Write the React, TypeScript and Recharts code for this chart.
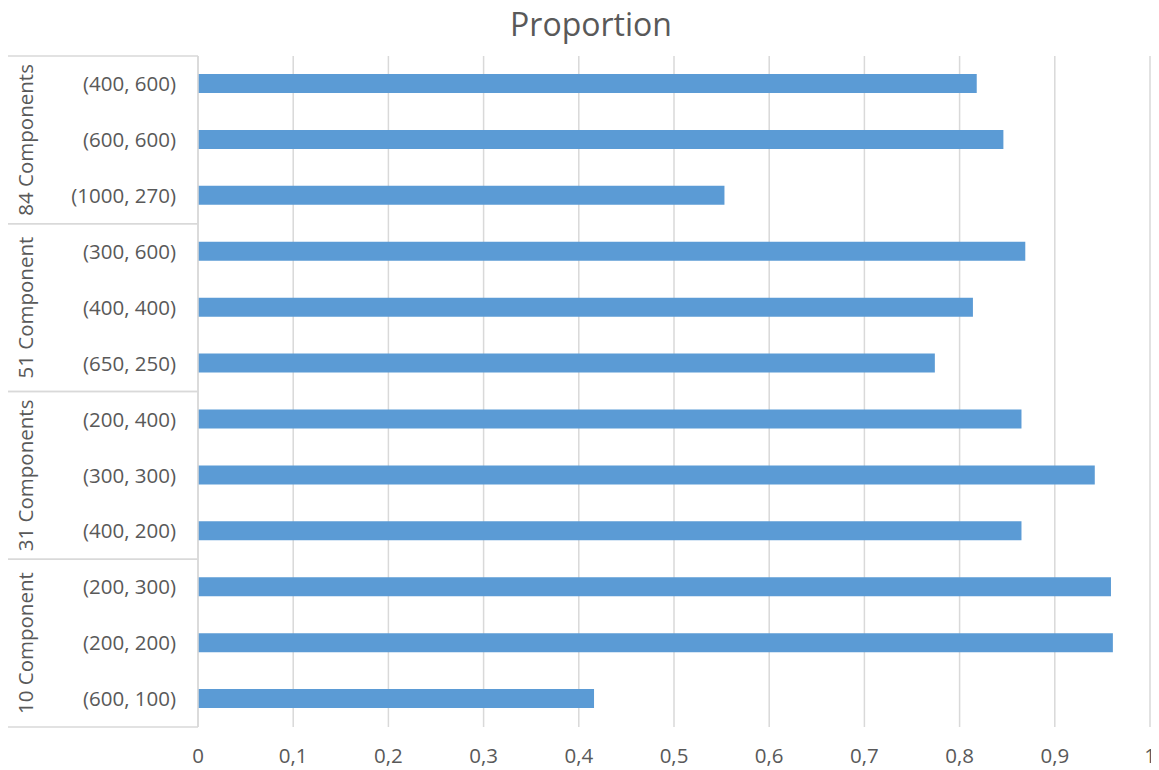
import React from 'react';
import { BarChart, Bar, XAxis, YAxis, CartesianGrid } from 'recharts';

const categories = ['(400, 600)', '(600, 600)', '(1000, 270)', '(300, 600)', '(400, 400)', '(650, 250)', '(200, 400)', '(300, 300)', '(400, 200)', '(200, 300)', '(200, 200)', '(600, 100)'];
const groups = ['84 Components', '84 Components', '84 Components', '51 Component', '51 Component', '51 Component', '31 Components', '31 Components', '31 Components', '10 Component', '10 Component', '10 Component'];
const proportions = [0.818, 0.846, 0.553, 0.869, 0.814, 0.774, 0.865, 0.942, 0.865, 0.959, 0.961, 0.416];
const xTicks = [0, 0.1, 0.2, 0.3, 0.4, 0.5, 0.6, 0.7, 0.8, 0.9, 1];

const data = categories.map((label, i) => ({ label, group: groups[i], value: proportions[i] }));

const TEXT = '#595959';
const LINE = '#d9d9d9';
const FONT = '"Open Sans", "Liberation Sans", sans-serif';
const AXIS_W = 190;
const TICK_MARGIN = 22;

const CategoryTick: React.FC<any> = ({ x, y, payload, index }) => {
  const half = payload.offset || 0;
  const g = groups[index];
  const first = index === 0 || groups[index - 1] !== g;
  const last = index === groups.length - 1 || groups[index + 1] !== g;
  const start = groups.indexOf(g);
  const end = groups.lastIndexOf(g);
  const mid = (start + end) / 2;
  const right = x + TICK_MARGIN;
  const left = right - AXIS_W;
  return (
    <g>
      <text x={x} y={y} dy="0.35em" textAnchor="end" fill={TEXT} fontSize={20.5} fontFamily={FONT}>
        {payload.value}
      </text>
      {index === mid && (
        <text
          x={left + 18}
          y={y}
          dy="0.35em"
          textAnchor="middle"
          fill={TEXT}
          fontSize={20.5}
          fontFamily={FONT}
          transform={`rotate(-90, ${left + 18}, ${y})`}
        >
          {g}
        </text>
      )}
      {first && <line x1={left} x2={right} y1={y - half} y2={y - half} stroke={LINE} strokeWidth={1.5} />}
      {last && <line x1={left} x2={right} y1={y + half} y2={y + half} stroke={LINE} strokeWidth={1.5} />}
    </g>
  );
};

export default function App() {
  return (
    <div style={{ position: 'relative', width: 1151, height: 762 }}>
      <div
        style={{
          position: 'absolute',
          left: 0,
          top: -6,
          width: 1166,
          textAlign: 'center',
          fontFamily: FONT,
          fontSize: 32,
          color: TEXT,
        }}
      >
        Proportion
      </div>
      <BarChart
        width={1151}
        height={762}
        data={data}
        layout="vertical"
        margin={{ top: 48, right: 9, left: 0, bottom: 8 }}
        barCategoryGap={0}
      >
        <CartesianGrid horizontal={false} stroke={LINE} strokeWidth={1.5} />
        <XAxis
          type="number"
          domain={[0, 1]}
          ticks={xTicks}
          axisLine={false}
          tickLine={false}
          tickSize={0}
          tickMargin={21}
          height={35}
          tick={{ fill: TEXT, fontSize: 20.5, fontFamily: FONT }}
          tickFormatter={(v: number) => String(v).replace('.', ',')}
        />
        <YAxis
          type="category"
          dataKey="label"
          width={AXIS_W}
          axisLine={{ stroke: LINE, strokeWidth: 1.5 }}
          tickLine={false}
          tickSize={0}
          tickMargin={TICK_MARGIN}
          interval={0}
          tick={<CategoryTick />}
        />
        <Bar dataKey="value" fill="#5B9BD5" barSize={19} isAnimationActive={false} />
      </BarChart>
    </div>
  );
}
